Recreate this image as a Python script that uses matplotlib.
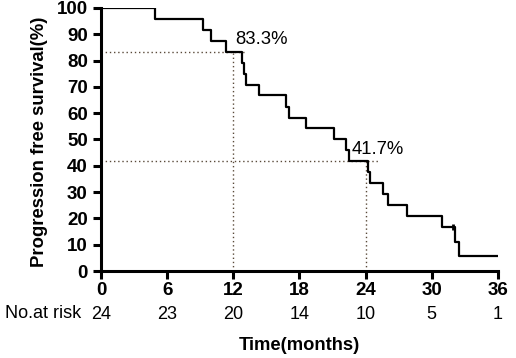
import matplotlib.pyplot as plt
import numpy as np

plt.rcParams["font.family"] = ["Liberation Sans", "DejaVu Sans"]

# Kaplan-Meier step data
times = [0, 4.9, 9.3, 10.0, 11.3, 12.8, 13.0, 13.2, 14.3, 16.8, 17.1, 18.6,
         21.1, 22.2, 22.5, 24.2, 24.4, 25.6, 26.0, 27.8, 30.9, 32.1, 32.5, 36]
surv = [100, 95.8, 91.7, 87.5, 83.3, 79.2, 75.0, 70.8, 66.7, 62.5, 58.3, 54.2,
        50.0, 45.8, 41.7, 37.5, 33.3, 29.2, 25.0, 20.8, 16.7, 11.1, 5.6, 5.6]
censor_t = [31.9]
censor_s = [16.7]

xticks = [0, 6, 12, 18, 24, 30, 36]
at_risk = [24, 23, 20, 14, 10, 5, 1]
marks = [(12, 83.3, "83.3%"), (24, 41.7, "41.7%")]

fig = plt.figure(figsize=(5.16, 3.58), dpi=100)
ax = fig.add_axes([0.1957, 0.243, 0.769, 0.735])

ax.step(times, surv, where="post", color="black", lw=1.6, zorder=3)
ax.plot(censor_t, censor_s, ls="none", marker="|", ms=5, mew=2, color="black")

dot = "#5a4a3a"
for t, s, lab in marks:
    ax.plot([0, t + 1.1], [s, s], ls=(0, (1, 2)), color=dot, lw=1)
    ax.plot([t, t], [0, s], ls=(0, (1, 2)), color=dot, lw=1)
ax.text(12.2, 84.8, "83.3%", fontsize=13.3, ha="left", va="bottom")
ax.text(22.7, 43.0, "41.7%", fontsize=13.3, ha="left", va="bottom")

ax.set_xlim(0, 36)
ax.set_ylim(0, 100)
ax.set_xticks(xticks)
ax.set_yticks(range(0, 101, 10))
ax.spines["top"].set_visible(False)
ax.spines["right"].set_visible(False)
for sp in ["left", "bottom"]:
    ax.spines[sp].set_linewidth(2.2)
ax.tick_params(axis="both", direction="out", length=6, width=2.2,
               labelsize=13.5)
for lab in ax.get_xticklabels() + ax.get_yticklabels():
    lab.set_fontweight("bold")
ax.tick_params(axis="x", pad=2)

ax.set_ylabel("Progression free survival(%)", fontsize=13.3, fontweight="bold")
ax.yaxis.set_label_coords(-0.134, 0.49)

# number at risk row
for t, n in zip(xticks, at_risk):
    ax.text(t, -16.5, str(n), fontsize=13, ha="center", va="center",
            transform=ax.transData, clip_on=False)
fig.text(0.01, 1 - 313 / 358, "No.at risk", fontsize=13, ha="left", va="center")

fig.text(0.58, 1 - 345 / 358, "Time(months)", fontsize=13.2,
         fontweight="bold", ha="center", va="center")

fig.savefig("out.png", dpi=100)
